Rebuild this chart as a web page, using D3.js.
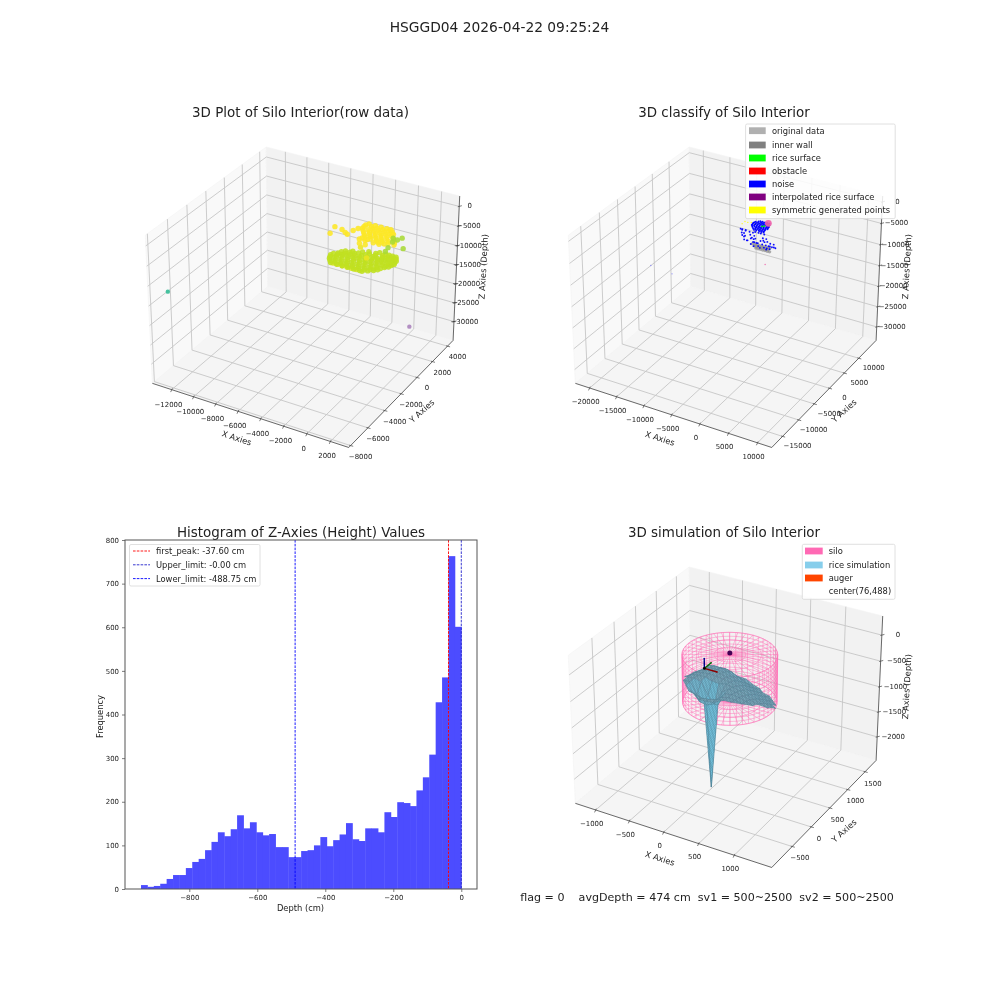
<!DOCTYPE html>
<html><head><meta charset="utf-8">
<script src="https://cdn.jsdelivr.net/npm/d3@7"></script>
<style>
html,body{margin:0;padding:0;background:#fff}
svg{display:block;filter:blur(.3px)}
text{font-family:"DejaVu Sans",sans-serif;fill:#222;white-space:pre}
</style></head><body><svg id="c" width="1000" height="1000"></svg>
<script>
// ---------- data ----------
const suptitle="HSGGD04 2026-04-22 09:25:24";
const statusLine="flag = 0    avgDepth = 474 cm  sv1 = 500~2500  sv2 = 500~2500";
// raw point cloud (panel 1): scan rows  [y, z, ...x values]
const rawRows=[
[-2300,-6000,-2300,-1900,-1500,-1100,-700,-300],
[-1900,-7000,-2800,-2300,-1800,-1300,-800,-300,-100],
[-1700,-7000,-3000,-2550,-2050,-1550,-1050,-550,-50,250],
[-1500,-7000,-3200,-2700,-2200,-1700,-1200,-700,-200,300,600],
[-1300,-7050,-3300,-2950,-2450,-1950,-1450,-950,-450,50,500,800],
[-1100,-7000,-3400,-2900,-2400,-1900,-1400,-900,-400,100,600,900],
[-900,-7000,-3300,-2950,-2550,-2050,-1550,-1050,-550,-50,450,1100],
[-700,-7050,-3050,-2700,-2300,-1800,-1300,-800,-300,200,700,1050,1300],
[-500,-7000,-2900,-2500,-2100,-1700,-1300,-800,-300,200,650,1150,1400],
[-300,-7000,-2700,-2300,-1900,-1300,-800,-300,100,400,900,1300,1500],
[-100,-7050,-2200,-1700,-1100,-500,-100,300,650,1100,1400],
[100,-7050,-1500,-900,-400,200,550,800,1100,1400],
[300,-7000,-1100,-500,100,550,850,1050,1250],
[500,-7000,-300,200,500,800,1100],
[-1234,-5000,-205],
[-300,-5000,-1400],
[300,-4050,-1700,-1250,-350,200],
[900,-4000,-2000,-1500,-1000,-500,0,600],
[700,-4050,-1800,-1300,-800,-300,250,800],
[1100,-3950,-2200,-1650,-1150,-650,-150,400],
[1300,-3900,-2400,-1900,-1400,-900,-400,100],
[1500,-3850,-2400,-1650,-1150,-650,-150,150],
[1700,-3800,-2400,-1900,-1400,-900,-400,-100],
[1900,-3800,-2250,-1700,-1200,-700,-350],
[500,-4100,-1600,-1100,-600,-100,400,900],
[100,-4000,-1800,-1300,-600,-100],
[-300,-4100,-1500,-1000],
[623,-3800,-4323],[-219,-3800,-4115],[313,-3800,-3190],[527,-3800,-3622],[745,-3800,-2808],[1089,-3800,-2629],[172,-3800,-2901],
[2429,-8000,-543],[2774,-8000,-363],[3117,-8000,-183],[2857,-8000,-785],[1686,-8000,-413],[1200,-8000,-305],[2019,-8000,667]
];
const rawOutlierX=[-13200,-166], rawOutlierY=[-6900,4400], rawOutlierZ=[-13400,-33880];
// classified points (panel 2): rows [y, z, ...x values]
const noiseRows=[
[1500,-100,-1000,-600,-200,200,600],
[1500,-300,-1300,-800,-400,0,400],
[1500,-500,-1800,-1400,-1000,-600,-200,200,600],
[1500,-700,-2000,-1600,-1200,-800,-400,0,400],
[1500,-900,-2200,-1800,-1400,-1000,-600,-200,200,500],
[1500,-1100,-2300,-1900,-1500,-1100,-700,-300,100,400],
[1500,-1300,-2400,-2000,-1600,-1200,-800,-400,0,300],
[1500,-1500,-2500,-2100,-1700,-1300,-900,-500,-100,250],
[1500,-1700,-2400,-2000,-1600,-1200,-800,-400,-100],
[1500,-1900,-2400,-1800,-1400,-1000,-600,-200],
[1500,-2100,-2300,-1900,-1500,-1100,-700,-300],
[1500,-2300,-2200,-1800,-1300,-900,-500],
[1500,-2500,-2100,-1700,-1200,-800,-400],
[1500,-2900,-1900,-1300,-900,-300],
[0,-1800,-3600,-3300,-2700],
[300,-2200,-3500,-2900,-2200,-1600],
[0,-2600,-3400,-3000,-1900,-1200,300,900],
[-200,-3000,-3200,-2700,-1500,-900,500,1200],
[0,-3400,-3000,-1800,-1300,-100,600,1600,2200],
[-300,-3800,-2800,-2200,-1000,-400,1000,1700,2400],
[0,-4100,-2500,-1400,-800,200,1300,1900,2500],
[0,-4700,-1800,-500,500,1000,1500],
[0,-5000,-1300,-200,900]
];
const noiseOutliers=[[-11170,-7800,-10000],[-4410,-24000,5000]];
const wallRows=[[0,-4500,-1500,-1100,-700,-300,100,500,900,1300,1500],[0,-4900,-1200,-800,-400,0,400,800,1200],[0,-5300,-900,-500,-100,300,700,1100,1500]];
const riceRows=[[1500,-500,350],[1500,-1200,-700],[1500,-1000,-300]];
const obstacleRows=[[1500,-100,400],[0,-8500,750]];
const symRows=[[1500,-1800,-4200],[1500,-1140,-3700],[1500,-1160,-3200],[1500,-950,-2600],[1500,-980,-2100],[1500,-680,-1600]];
// histogram
const histLo=-942, histHi=0;
const histCounts=[9,5,7,12,23,32,32,48,62,69,89,108,130,121,137,169,139,153,130,123,126,96,96,73,73,87,89,100,119,98,112,125,151,114,110,139,139,130,176,165,199,197,190,226,256,308,428,485,763,601];
const histXTicks=[-800,-600,-400,-200,0];
const histYTicks=[0,100,200,300,400,500,600,700,800];
const histLines=[["first_peak: -37.60 cm",-37.6,"#ff0000"],["Upper_limit: -0.00 cm",0,"#2222cc"],["Lower_limit: -488.75 cm",-488.75,"#0000ff"]];
// rice surface (panel 4): z on a grid around the silo centre
const siloCx=76, siloCy=488, siloR=595;
const siloRingZ=[-60,-135,-210,-285,-360,-435,-510,-585,-660,-735,-810,-885,-960];
const gridA=[-600,-500,-400,-300,-200,-100,0,100,200,300,400,500,600];
const gridB=[600,500,400,300,200,100,0,-100,-200,-300,-400,-500,-600];
const _=null;
const riceZ=[
[_,_,_,_,_,-950,-1020,-1060,_,_,_,_,_],
[_,_,_,-790,-850,-900,-960,-1000,-1040,-1070,_,_,_],
[_,_,-700,-690,-720,-790,-860,-920,-975,-1020,-1060,_,_],
[_,-640,-610,-620,-660,-720,-780,-830,-890,-945,-1000,-1040,_],
[_,-640,-590,-585,-600,-640,-695,-750,-805,-860,-915,-970,_],
[-690,-620,-570,-555,-565,-590,-630,-680,-730,-780,-835,-885,-930],
[-680,-590,-555,-540,-545,-565,-590,-625,-670,-715,-760,-805,-850],
[-640,-565,-540,-535,-580,-590,-565,-585,-620,-660,-700,-745,-790],
[_,-550,-530,-560,-790,-900,-650,-555,-580,-610,-645,-690,_],
[_,-545,-535,-740,-820,-2490,-830,-580,-555,-575,-610,-650,_],
[_,_,-540,-640,-780,-800,-740,-580,-545,-555,-590,_,_],
[_,_,_,-545,-580,-610,-590,-555,-535,-530,_,_,_],
[_,_,_,_,_,-560,-560,-545,_,_,_,_,_]
];
const augerBase=[-234,388,-375], augerLen=[185,170,190];
const centerPoint=[76,488,-30];
const legend2=[["original data","#b0b0b0"],["inner wall","#808080"],["rice surface","#00ff00"],["obstacle","#ff0000"],["noise","#0000ff"],["interpolated rice surface","#800080"],["symmetric generated points","#ffff00"]];
const legend4=[["silo","#ff69b4"],["rice simulation","#87ceeb"],["auger","#ff4500"],["center(76,488)",null]];
// axes
const p1Ticks={x:[-12000,-10000,-8000,-6000,-4000,-2000,0,2000],y:[-8000,-6000,-4000,-2000,0,2000,4000],z:[0,-5000,-10000,-15000,-20000,-25000,-30000]};
const p2Ticks={x:[-20000,-15000,-10000,-5000,0,5000,10000],y:[-15000,-10000,-5000,0,5000,10000],z:[0,-5000,-10000,-15000,-20000,-25000,-30000]};
const p4Ticks={x:[-1000,-500,0,500,1000],y:[-500,0,500,1000,1500],z:[0,-500,-1000,-1500,-2000]};

// ---------- layout ----------
const svg=d3.select("#c");
const fmt=d3.format("d");
const defs=svg.append("defs");
const pat=defs.append("pattern").attr("id","mesh").attr("patternUnits","userSpaceOnUse").attr("width",2).attr("height",2).attr("patternTransform","matrix(.71,.2,.40,-.35,0,0)");
pat.append("path").attr("d","M0,0H2M0,0V2").attr("stroke","#2f5566").attr("stroke-width",.7).attr("stroke-opacity",.6).attr("fill","none");
function txt(g,x,y,s,size,anchor,rot){
  const t=g.append("text").attr("font-size",size).attr("text-anchor",anchor||"middle").attr("dominant-baseline","central").text(s);
  t.attr("transform",`translate(${x},${y})`+(rot?` rotate(${rot})`:""));return t;
}
function scene(o){
  const hx=1.142857/2,hy=hx,hz=.857143/2;
  const sx=d3.scaleLinear().domain(o.x).range([-hx,hx]);
  const sy=d3.scaleLinear().domain(o.y).range([-hy,hy]);
  const sz=d3.scaleLinear().domain(o.z).range([-hz,hz]);
  const xl=[sx.invert(-hx*25/24),sx.invert(hx*25/24)],yl=[sy.invert(-hy*25/24),sy.invert(hy*25/24)],zl=[sz.invert(-hz*25/24),sz.invert(hz*25/24)];
  const u=[.8660254,.5,0],v=[-.25,.4330127,.8660254],w=[.4330127,-.75,.5];
  const box=(x,y,z)=>[sx(x),sy(y),sz(z)];
  const dot=(a,b)=>a[0]*b[0]+a[1]*b[1]+a[2]*b[2];
  const proj=(x,y,z)=>{const p=box(x,y,z),d=10-dot(p,w);return [o.cx+o.s*dot(p,u)/d,o.cy-o.s*dot(p,v)/d];};
  const depth=(x,y,z)=>dot(box(x,y,z),w);
  return {proj,depth,box,xl,yl,zl,o};
}
function drawFrame(S,ticks,labels){
  const g=svg.append("g"),{proj,xl,yl,zl,o}=S;
  const line=pts=>"M"+pts.map(p=>proj(...p).map(n=>n.toFixed(2)).join(",")).join("L");
  const panes=[
   {fill:"#f9f9f9",c:[[xl[0],yl[0],zl[0]],[xl[0],yl[1],zl[0]],[xl[0],yl[1],zl[1]],[xl[0],yl[0],zl[1]]]},
   {fill:"#f2f2f2",c:[[xl[0],yl[1],zl[0]],[xl[1],yl[1],zl[0]],[xl[1],yl[1],zl[1]],[xl[0],yl[1],zl[1]]]},
   {fill:"#f5f5f5",c:[[xl[0],yl[0],zl[0]],[xl[1],yl[0],zl[0]],[xl[1],yl[1],zl[0]],[xl[0],yl[1],zl[0]]]}];
  g.selectAll(".pane").data(panes).join("path").attr("class","pane").attr("fill",d=>d.fill).attr("stroke","#f4f4f4").attr("stroke-width",.6).attr("d",d=>line(d.c)+"Z");
  const gs={fill:"none",stroke:"#c6c6c6","stroke-width":.9};
  const gl=(data,f)=>{const s=g.append("g").selectAll("path").data(data).join("path").attr("d",f);Object.entries(gs).forEach(([k,v])=>s.attr(k,v));};
  gl(ticks.x,t=>line([[t,yl[0],zl[0]],[t,yl[1],zl[0]],[t,yl[1],zl[1]]]));
  gl(ticks.y,t=>line([[xl[1],t,zl[0]],[xl[0],t,zl[0]],[xl[0],t,zl[1]]]));
  gl(ticks.z,t=>line([[xl[0],yl[0],t],[xl[0],yl[1],t],[xl[1],yl[1],t]]));
  const ax=[[[xl[0],yl[0],zl[0]],[xl[1],yl[0],zl[0]]],[[xl[1],yl[0],zl[0]],[xl[1],yl[1],zl[0]]],[[xl[1],yl[1],zl[0]],[xl[1],yl[1],zl[1]]]];
  g.selectAll(".ax").data(ax).join("path").attr("class","ax").attr("d",line).attr("stroke","#444").attr("stroke-width",.8).attr("fill","none");
  const tk=(p,dx,dy)=>g.append("line").attr("x1",p[0]-dx*.55).attr("y1",p[1]-dy*.55).attr("x2",p[0]+dx).attr("y2",p[1]+dy).attr("stroke","#444").attr("stroke-width",.7);
  ticks.x.forEach(t=>{const p=proj(t,yl[0],zl[0]);tk(p,-1.1,2.4);txt(g,p[0]+o.lx[0],p[1]+o.lx[1],fmt(t),6.94);});
  ticks.y.forEach(t=>{const p=proj(xl[1],t,zl[0]);tk(p,2.6,.7);txt(g,p[0]+o.ly[0],p[1]+o.ly[1],fmt(t),6.94);});
  ticks.z.forEach(t=>{const p=proj(xl[1],yl[1],t);tk(p,2.6,-.7);txt(g,p[0]+o.lz[0],p[1]+o.lz[1],fmt(t),6.94);});
  txt(g,o.xlab[0],o.xlab[1],"X Axies",8.33,"middle",18);
  txt(g,o.ylab[0],o.ylab[1],"Y Axies",8.33,"middle",-42);
  txt(g,o.zlab[0],o.zlab[1],"Z Axies (Depth)",8.33,"middle",-87);
}
function rowsToPoints(rows){return rows.flatMap(r=>r.slice(2).map(x=>[x,r[0],r[1]]));}
function scatter(S,pts,r,color,op){
  const g=svg.append("g");
  g.selectAll("circle").data(pts).join("circle")
   .attr("cx",d=>S.proj(...d)[0]).attr("cy",d=>S.proj(...d)[1]).attr("r",r)
   .attr("fill",typeof color==="function"?color:()=>color).attr("fill-opacity",op);
}
function legend(x,y,w,h,items,ys,tx,sx0,sw){
  const g=svg.append("g");
  g.append("rect").attr("x",x).attr("y",y).attr("width",w).attr("height",h).attr("rx",1.5).attr("fill","#fff").attr("fill-opacity",.85).attr("stroke","#d8d8d8").attr("stroke-width",.8);
  items.forEach((d,i)=>{
    if(d[1]) g.append("rect").attr("x",sx0).attr("y",ys[i]-3.4).attr("width",sw).attr("height",6.8).attr("fill",d[1]);
    txt(g,tx,ys[i],d[0],8.33,"start");
  });
}
txt(svg,499.5,27,suptitle,13.8);
txt(svg,300.5,112,"3D Plot of Silo Interior(row data)",13.45);
txt(svg,724,112,"3D classify of Silo Interior",13.45);
txt(svg,301,532,"Histogram of Z-Axies (Height) Values",13.45);
txt(svg,724,532,"3D simulation of Silo Interior",13.45);
txt(svg,707,897,statusLine,11.1);

// panel 1
const S1=scene({cx:305.5,cy:290,s:1890,x:[-13450,3200],y:[-7950,4500],z:[-34350,1850],lx:[-3.3,15],ly:[10,11],lz:[10.5,0],xlab:[236.7,438],ylab:[421.7,411],zlab:[483.3,266.7]});
drawFrame(S1,p1Ticks);
const zColor=d3.scaleLinear().domain([-34000,-13400,-8000,-7000,-6000,-4000]).range(["#b089c0","#3dbf9a","#a8da35","#c0e020","#d6e21f","#fde725"]).clamp(true);
scatter(S1,rowsToPoints(rawRows),2.7,d=>zColor(d[2]),.88);
scatter(S1,rawOutlierX.map((x,i)=>[x,rawOutlierY[i],rawOutlierZ[i]]),2.2,d=>zColor(d[2]),.95);

// panel 2
const S2=scene({cx:728.5,cy:290,s:1890,x:[-21980,11720],y:[-17600,15500],z:[-32680,670],lx:[-4,14],ly:[15,10],lz:[15,0],xlab:[660,438.3],ylab:[844,410.7],zlab:[906.7,266.7]});
drawFrame(S2,p2Ticks);
scatter(S2,rowsToPoints(wallRows),1.7,"#8c8c8c",.7);
scatter(S2,rowsToPoints(symRows),.7,"#ffff00",.9);
scatter(S2,rowsToPoints(noiseRows),.95,"#0000ff",.95);
scatter(S2,noiseOutliers,.7,"#5555ff",.6);
scatter(S2,rowsToPoints(riceRows),.9,"#00ff00",1);
scatter(S2,rowsToPoints(obstacleRows).slice(0,1),3.4,"#ee5fa8",.9);
scatter(S2,rowsToPoints(obstacleRows).slice(1),.7,"#ee5fa8",.9);
legend(745.6,124,149.6,94.6,legend2,[130.7,145,158,171,184,197,210],772,749,16.7);

// panel 3 (histogram)
(function(){
  const L=125,R=477,T=540,B=889;
  const x=d3.scaleLinear().domain([-989.1,46.2]).range([L,R]);
  const y=d3.scaleLinear().domain([0,800]).range([B,T]);
  const bin=d3.scaleLinear().domain([0,histCounts.length]).range([histLo,histHi]);
  const g=svg.append("g");
  g.selectAll(".bar").data(histCounts).join("rect").attr("class","bar")
   .attr("x",(d,i)=>x(bin(i))).attr("width",(d,i)=>x(bin(i+1))-x(bin(i))+.4)
   .attr("y",d=>y(d)).attr("height",d=>B-y(d)).attr("fill","#4c4cff");
  g.selectAll(".vl").data(histLines).join("line").attr("class","vl")
   .attr("x1",d=>x(d[1])).attr("x2",d=>x(d[1])).attr("y1",T).attr("y2",B)
   .attr("stroke",d=>d[2]).attr("stroke-width",.9).attr("stroke-dasharray","2.6,1.2");
  const ax=g.append("g").attr("transform",`translate(0,${B})`).call(d3.axisBottom(x).tickValues(histXTicks).tickFormat(fmt).tickSize(3).tickPadding(3));
  const ay=g.append("g").attr("transform",`translate(${L},0)`).call(d3.axisLeft(y).tickValues(histYTicks).tickFormat(fmt).tickSize(3).tickPadding(3));
  [ax,ay].forEach(a=>{a.selectAll("text").attr("font-size",6.94).attr("font-family","DejaVu Sans");a.select(".domain").remove();a.selectAll("line").attr("stroke","#444").attr("stroke-width",.7);});
  g.append("rect").attr("x",L).attr("y",T).attr("width",R-L).attr("height",B-T).attr("fill","none").attr("stroke","#555").attr("stroke-width",1);
  txt(g,300.5,908,"Depth (cm)",8.33);
  txt(g,100,716.5,"Frequency",8.33,"middle",-90);
  const lg=g.append("g");
  lg.append("rect").attr("x",129.5).attr("y",544.5).attr("width",130.5).attr("height",41.5).attr("rx",1.5).attr("fill","#fff").attr("stroke","#d8d8d8").attr("stroke-width",.8);
  histLines.forEach((d,i)=>{const yy=551+i*13.8;
    lg.append("line").attr("x1",133).attr("x2",150).attr("y1",yy).attr("y2",yy).attr("stroke",d[2]).attr("stroke-width",.9).attr("stroke-dasharray","2.6,1.2");
    txt(lg,156,yy,d[0],8.33,"start");});
})();

// panel 4
const S4=scene({cx:728.5,cy:710,s:1890,x:[-1250,1460],y:[-961,1770],z:[-2423,305],lx:[-4,13.7],ly:[7.7,11.8],lz:[16,0],xlab:[660,858.3],ylab:[844,830.7],zlab:[906.7,686.7]});
drawFrame(S4,p4Ticks);
(function(){
  const g=svg.append("g"),P=S4.proj;
  const thetas=d3.range(0,360,7.5).map(d=>d*Math.PI/180);
  const capFractions=[.33,.66,1];
  const spokes=d3.range(0,360,10).map(d=>d*Math.PI/180);
  const pt=(f,t,z)=>[siloCx+f*siloR*Math.cos(t),siloCy+f*siloR*Math.sin(t),z];
  const path=a=>"M"+a.map(p=>P(...p).map(n=>n.toFixed(2)).join(",")).join("L");
  const top=siloRingZ[0],bot=siloRingZ[siloRingZ.length-1];
  const paths=[];
  siloRingZ.forEach(z=>paths.push(path(thetas.concat(thetas[0]).map(t=>pt(1,t,z)))));
  thetas.forEach(t=>paths.push(path([pt(1,t,top),pt(1,t,bot)])));
  [top,bot].forEach(z=>{
    capFractions.forEach(f=>paths.push(path(thetas.concat(thetas[0]).map(t=>pt(f,t,z)))));
    spokes.forEach(t=>paths.push(path([pt(0,t,z),pt(1,t,z)])));
  });
  g.selectAll("path").data(paths).join("path").attr("d",d=>d).attr("fill","none").attr("stroke","#ff69b4").attr("stroke-width",.55).attr("stroke-opacity",.8);
  // rice surface
  const cells=[];
  const v=(i,j)=>riceZ[i][j]==null?null:[siloCx+gridA[j],siloCy+gridB[i],riceZ[i][j]];
  for(let i=0;i<gridB.length-1;i++)for(let j=0;j<gridA.length-1;j++){
    const q=[v(i,j),v(i,j+1),v(i+1,j+1),v(i+1,j)].filter(Boolean);
    if(q.length>=3) cells.push(q);
  }
  const info=cells.map(q=>{
    const b=q.map(p=>S4.box(...p));
    const a1=[b[1][0]-b[0][0],b[1][1]-b[0][1],b[1][2]-b[0][2]],a2=[b[2][0]-b[0][0],b[2][1]-b[0][1],b[2][2]-b[0][2]];
    const n=[a1[1]*a2[2]-a1[2]*a2[1],a1[2]*a2[0]-a1[0]*a2[2],a1[0]*a2[1]-a1[1]*a2[0]];
    const nz=Math.abs(n[2])/Math.hypot(...n);
    return {q,nz,d:d3.mean(q,p=>S4.depth(...p))};
  }).sort((a,b)=>a.d-b.d);
  const tone=d3.interpolateRgb("#76c6e2","#7eaabd");
  const rg=svg.append("g");
  const cell=rg.selectAll("g").data(info).join("g");
  cell.append("path").attr("d",d=>path(d.q)+"Z").attr("fill",d=>tone(Math.min(1,d.nz*d.nz*1.2)))
    .attr("stroke","#4f7f93").attr("stroke-width",.4).attr("stroke-linejoin","round");
  cell.append("path").attr("d",d=>path(d.q)+"Z").attr("fill","url(#mesh)");
  // centre point & auger
  const c=P(...centerPoint);
  svg.append("circle").attr("cx",c[0]).attr("cy",c[1]).attr("r",2.5).attr("fill","#440154");
  const [bx,by,bz]=augerBase;
  const arrows=[[[bx+augerLen[0],by,bz],"#8b0000"],[[bx,by+augerLen[1],bz],"#006400"],[[bx,by,bz+augerLen[2]],"#00008b"]];
  const q=svg.append("g");
  arrows.forEach(a=>{const s=P(bx,by,bz),e=P(...a[0]);
    q.append("line").attr("x1",s[0]).attr("y1",s[1]).attr("x2",e[0]).attr("y2",e[1]).attr("stroke",a[1]).attr("stroke-width",1.4);
    q.append("circle").attr("cx",e[0]).attr("cy",e[1]).attr("r",.8).attr("fill",a[1]);});
  const s=P(bx,by,bz);q.append("circle").attr("cx",s[0]).attr("cy",s[1]).attr("r",1.4).attr("fill","#000");
})();
legend(802.3,544.3,92.7,55,legend4,[551,565,578,590.7],828.7,805,17.7);
</script></body></html>
